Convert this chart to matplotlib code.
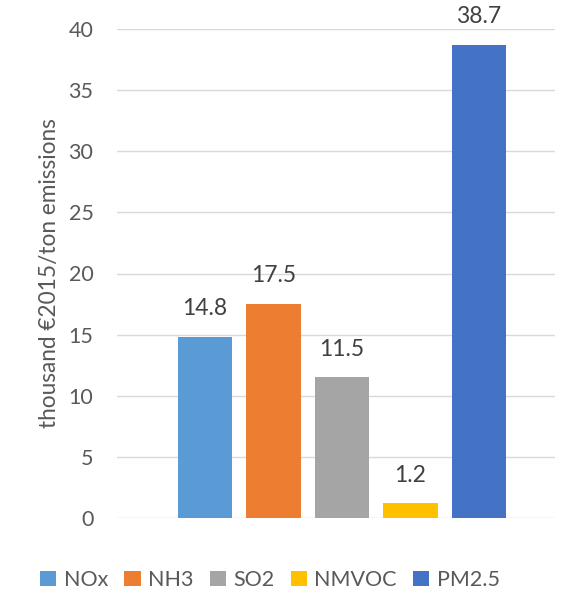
import matplotlib.pyplot as plt
from matplotlib.patches import Patch

pollutants = ["NOx", "NH3", "SO2", "NMVOC", "PM2.5"]
values = [14.8, 17.5, 11.5, 1.2, 38.7]
colors = ["#5B9BD5", "#ED7D31", "#A5A5A5", "#FFC000", "#4472C4"]
yticks = [0, 5, 10, 15, 20, 25, 30, 35, 40]

plt.rcParams['font.family'] = ['Lato', 'DejaVu Sans']

fig = plt.figure(figsize=(5.77, 5.98), dpi=100)
ax = fig.add_axes([117/577, 1 - 518/598, 438/577, 489/598])

x = range(len(pollutants))
bars = ax.bar(x, values, width=0.79, color=colors, zorder=3)

for xi, v in zip(x, values):
    ax.text(xi, v + 1.45, f"{v:.1f}", ha="center", va="bottom",
            fontsize=16.5, color="#404040")

ax.set_xlim(-1.285, 5.11)
ax.set_ylim(0, 40)
ax.set_yticks(yticks)
ax.set_xticks([])
ax.yaxis.grid(True, color="#D9D9D9", linewidth=1)
ax.set_axisbelow(True)
for s in ax.spines.values():
    s.set_visible(False)
ax.tick_params(axis="y", length=0, pad=17, labelsize=15.5, labelcolor="#595959")
ax.set_ylabel("thousand €2015/ton emissions", fontsize=16.3, color="#595959")
ax.yaxis.set_label_coords(-0.13, 0.5)

handles = [Patch(facecolor=c, label=p) for p, c in zip(pollutants, colors)]
fig.legend(handles=handles, loc="center", bbox_to_anchor=(270/577, 1 - 580/598),
           ncol=5, frameon=False, fontsize=15.5, handlelength=0.75, handleheight=0.75,
           handletextpad=0.35, columnspacing=0.75, labelcolor="#595959")

fig.savefig("out.png", dpi=100)
